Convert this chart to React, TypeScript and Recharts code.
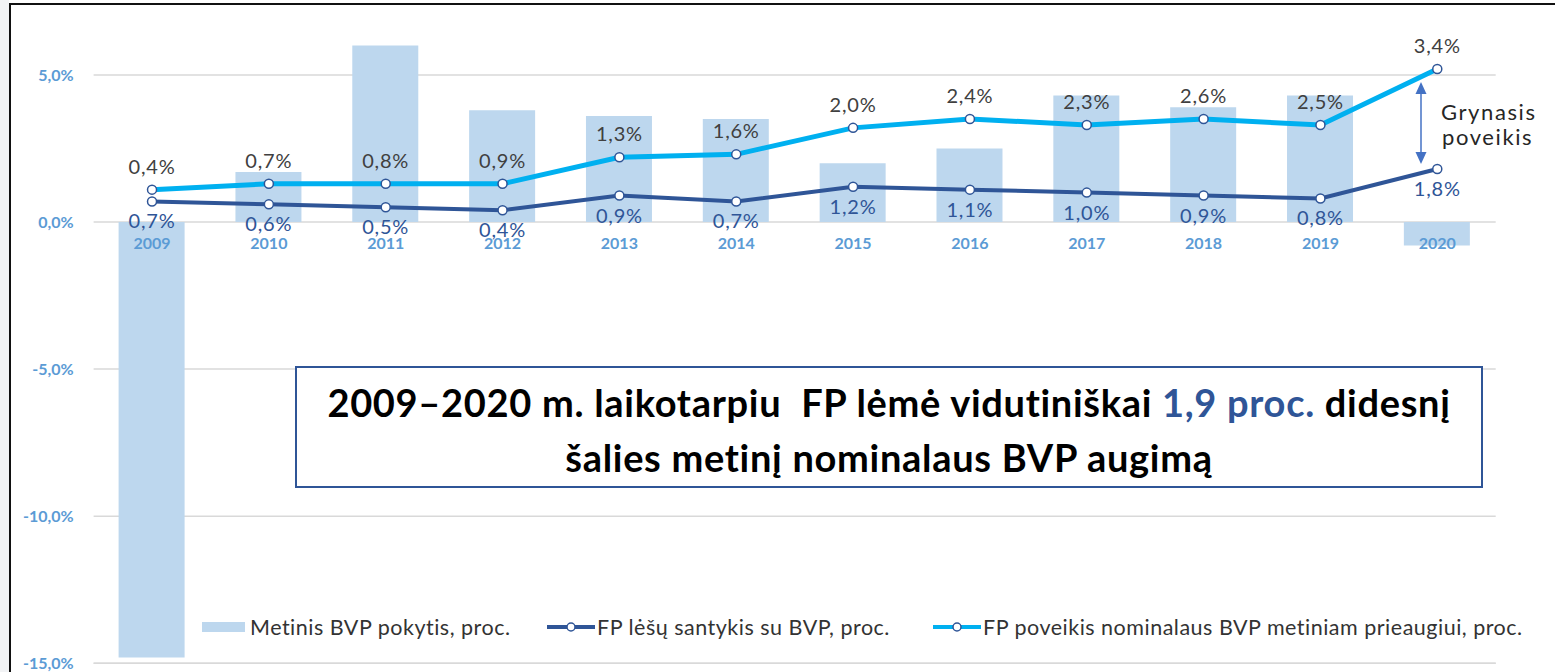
import React from "react"
import {
  ComposedChart,
  Bar,
  Line,
  XAxis,
  YAxis,
  CartesianGrid,
  Legend,
  LabelList,
  ReferenceLine,
} from "recharts"

// values
const years = ["2009", "2010", "2011", "2012", "2013", "2014", "2015", "2016", "2017", "2018", "2019", "2020"]
const gdpChange = [-14.8, 1.7, 6.0, 3.8, 3.6, 3.5, 2.0, 2.5, 4.3, 3.9, 4.3, -0.8]
const fundsRatio = [0.7, 0.6, 0.5, 0.4, 0.9, 0.7, 1.2, 1.1, 1.0, 0.9, 0.8, 1.8]
const fundsEffect = [0.4, 0.7, 0.8, 0.9, 1.3, 1.6, 2.0, 2.4, 2.3, 2.6, 2.5, 3.4]
const yTicks = [-15, -10, -5, 0, 5]

const seriesNames = {
  gdp: "Metinis BVP pokytis, proc.",
  ratio: "FP lėšų santykis su BVP, proc.",
  effect: "FP poveikis nominalaus BVP metiniam prieaugiui, proc.",
}
const legendOrder = [seriesNames.gdp, seriesNames.ratio, seriesNames.effect]

// effect line sits on top of the ratio line (stacked)
const data = years.map((year, i) => ({
  year,
  gdp: gdpChange[i],
  ratio: fundsRatio[i],
  effect: fundsEffect[i],
  total: fundsRatio[i] + fundsEffect[i],
  zero: 0,
}))

const FONT = "Lato, 'Open Sans', sans-serif"
const DARK = "#2F5597"
const LIGHT = "#00B0F0"
const BAR = "#BDD7EE"
const AXIS_TXT = "#5B9BD5"
const GRID = "#D9D9D9"

const fmt = (v: number) => v.toFixed(1).replace(".", ",") + "%"

const topLabel = (p: any) => (
  <text x={p.x} y={p.y - 23} dy="0.35em" textAnchor="middle" fill="#404040" fontSize={20} letterSpacing={0.8} fontFamily={FONT}>
    {fmt(Number(p.value))}
  </text>
)

const bottomLabel = (p: any) => (
  <text x={p.x} y={p.y + 20} dy="0.35em" textAnchor="middle" fill={DARK} fontSize={20} letterSpacing={0.8} fontFamily={FONT}>
    {fmt(Number(p.value))}
  </text>
)

const yearLabel = (p: any) => (
  <text x={p.x} y={p.y + 21} dy="0.35em" textAnchor="middle" fill={AXIS_TXT} fontSize={16} fontWeight={700} fontFamily={FONT}>
    {p.value}
  </text>
)

const legendStarts = [202, 547, 933]

const LegendContent = (props: any) => {
  const items = (props.payload || [])
    .filter((e: any) => e.type !== "none")
    .sort((a: any, b: any) => legendOrder.indexOf(a.value) - legendOrder.indexOf(b.value))
  return (
    <div style={{ position: "relative", height: 30, fontFamily: FONT, fontSize: 21.5, letterSpacing: 0.5, color: "#333" }}>
      {items.map((e: any, i: number) => (
        <div key={i} style={{ position: "absolute", left: legendStarts[i], top: 0, display: "flex", alignItems: "center", whiteSpace: "nowrap" }}>
          {e.type === "rect" ? (
            <svg width={48} height={30}>
              <rect x={0} y={10} width={43} height={10} fill={BAR} />
            </svg>
          ) : (
            <svg width={50} height={30}>
              <line x1={0} x2={48} y1={15} y2={15} stroke={e.color} strokeWidth={4} />
              <circle cx={24} cy={15} r={4} fill="#fff" stroke={DARK} strokeWidth={1.5} />
            </svg>
          )}
          <span>{e.value}</span>
        </div>
      ))}
    </div>
  )
}

export default function App() {
  return (
    <div style={{ position: "absolute", left: 0, top: 0, width: 1555, height: 672, background: "#fff", overflow: "hidden" }}>
      <div style={{ position: "absolute", left: 0, top: 0, width: 9, height: 672, background: "#F2F3F5" }} />
      <div style={{ position: "absolute", left: 9, top: 3, right: 0, bottom: 0, borderLeft: "2px solid #111", borderTop: "2px solid #111" }} />
      <ComposedChart
        width={1555}
        height={672}
        data={data}
        margin={{ top: 45.5, right: 59.3, bottom: 8.7, left: 13.6 }}
        style={{ position: "absolute", left: 0, top: 0 }}
      >
        <CartesianGrid vertical={false} horizontalValues={yTicks} stroke={GRID} strokeWidth={1.5} />
        <ReferenceLine y={-15} stroke={GRID} strokeWidth={1.5} />
        <XAxis dataKey="year" hide />
        <YAxis
          domain={[-15, 6]}
          ticks={yTicks}
          interval={0}
          width={80}
          axisLine={false}
          tickLine={false}
          tickSize={0}
          tickMargin={20}
          tickFormatter={(v: number) => fmt(v)}
          tick={{ fill: AXIS_TXT, fontSize: 16, fontWeight: 700, fontFamily: FONT }}
        />
        <Legend
          verticalAlign="middle"
          align="center"
          layout="horizontal"
          wrapperStyle={{ left: 0, top: 612, width: 1555 }}
          content={LegendContent}
        />
        <Bar dataKey="gdp" name={seriesNames.gdp} fill={BAR} barSize={66} isAnimationActive={false} />
        <Line dataKey="zero" stroke="none" dot={false} activeDot={false} legendType="none" isAnimationActive={false}>
          <LabelList dataKey="year" content={yearLabel} />
        </Line>
        <Line
          dataKey="ratio"
          name={seriesNames.ratio}
          stroke={DARK}
          strokeWidth={4}
          dot={{ r: 4.5, fill: "#fff", stroke: DARK, strokeWidth: 1.5 }}
          isAnimationActive={false}
        >
          <LabelList dataKey="ratio" content={bottomLabel} />
        </Line>
        <Line
          dataKey="total"
          name={seriesNames.effect}
          stroke={LIGHT}
          strokeWidth={5}
          dot={{ r: 4.5, fill: "#fff", stroke: DARK, strokeWidth: 1.5 }}
          isAnimationActive={false}
        >
          <LabelList dataKey="effect" content={topLabel} />
        </Line>
      </ComposedChart>

      {/* net effect arrow */}
      <svg width={1555} height={672} style={{ position: "absolute", left: 0, top: 0, pointerEvents: "none" }}>
        <line x1={1421} x2={1421} y1={90} y2={156} stroke="#4472C4" strokeWidth={1.5} />
        <polygon points="1421,82 1415.5,94 1426.5,94" fill="#4472C4" />
        <polygon points="1421,164 1415.5,152 1426.5,152" fill="#4472C4" />
        <text x={1441} y={112} dy="0.35em" fontFamily={FONT} fontSize={22} letterSpacing={1.6} fill="#262626">Grynasis</text>
        <text x={1442} y={137} dy="0.35em" fontFamily={FONT} fontSize={22} letterSpacing={1.6} fill="#262626">poveikis</text>
      </svg>

      <div
        style={{
          position: "absolute",
          left: 295,
          top: 366,
          width: 1188,
          height: 122,
          boxSizing: "border-box",
          border: "2px solid " + DARK,
          background: "#fff",
          display: "flex",
          flexDirection: "column",
          justifyContent: "center",
          alignItems: "center",
          paddingTop: 6,
          fontFamily: FONT,
          fontWeight: 700,
          fontSize: 38,
          letterSpacing: 0.7,
          lineHeight: "55px",
          color: "#000",
        }}
      >
        <div style={{ whiteSpace: "pre" }}>
          2009–2020 m. laikotarpiu  FP lėmė vidutiniškai <span style={{ color: DARK }}>1,9 proc.</span> didesnį
        </div>
        <div>šalies metinį nominalaus BVP augimą</div>
      </div>
    </div>
  )
}
